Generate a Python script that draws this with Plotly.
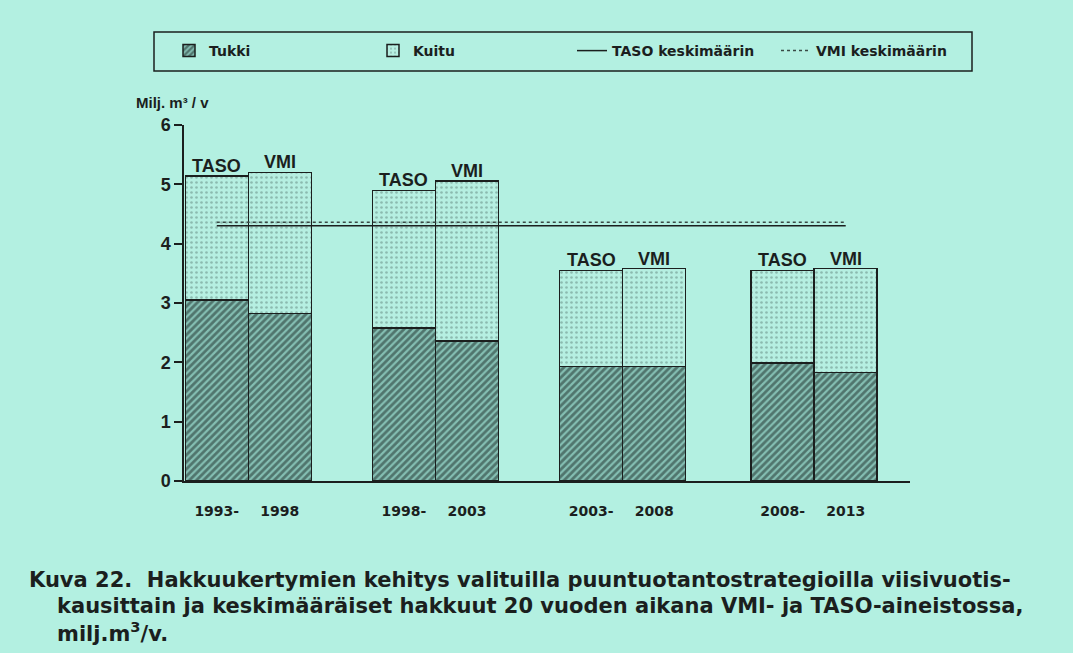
import plotly.graph_objects as go

# ---- data ----
period_start = ["1993-", "1998-", "2003-", "2008-"]
period_end = ["1998", "2003", "2008", "2013"]
taso_tukki = [3.05, 2.58, 1.93, 1.99]
taso_kuitu = [2.09, 2.32, 1.62, 1.56]
vmi_tukki = [2.82, 2.36, 1.93, 1.83]
vmi_kuitu = [2.38, 2.70, 1.65, 1.75]
taso_avg = 4.30
vmi_avg = 4.36
series_labels = ["TASO", "VMI"]

# ---- layout helpers ----
group_pos = [0, 2.97, 5.94, 8.98]
taso_x = [g for g in group_pos]
vmi_x = [g + 1 for g in group_pos]
xs = taso_x + vmi_x
tukki = taso_tukki + vmi_tukki
kuitu = taso_kuitu + vmi_kuitu

BG = "#b3f0e1"
INK = "#1b1f1e"
FONT = "Liberation Sans, Arial, sans-serif"
WIDE = "DejaVu Sans, Verdana, sans-serif"

W, H = 1073, 653
L, R, T, B = 184, 163, 125, 172
PW, PH = W - L - R, H - T - B


def px_x(px):
    return (px - L) / PW


def px_y(py):
    return (H - B - py) / PH


fig = go.Figure()

fig.add_trace(go.Bar(
    x=xs, y=tukki, width=1, name="Tukki", legend="legend",
    marker=dict(color="#84beb2", line=dict(color=INK, width=1.5),
                pattern=dict(shape="/", fgcolor="#1c2b28", bgcolor="#84beb2",
                             size=5, solidity=0.55)),
))
fig.add_trace(go.Bar(
    x=xs, y=kuitu, width=1, name="Kuitu", legend="legend2",
    marker=dict(color="#b6efe1", line=dict(color=INK, width=1.5),
                pattern=dict(shape=".", fgcolor="#62857e", bgcolor="#b6efe1",
                             size=5, solidity=0.22)),
))
fig.add_trace(go.Scatter(
    x=[taso_x[0], vmi_x[-1]], y=[taso_avg, taso_avg], mode="lines",
    name="TASO keskimäärin", legend="legend3",
    line=dict(color=INK, width=1.5),
))
fig.add_trace(go.Scatter(
    x=[taso_x[0], vmi_x[-1]], y=[vmi_avg, vmi_avg], mode="lines",
    name="VMI keskimäärin", legend="legend4",
    line=dict(color="#3a4a46", width=1.5, dash="dot"),
))

annotations = []
for i in range(4):
    for lab, x, t, k in ((series_labels[0], taso_x[i], taso_tukki[i], taso_kuitu[i]),
                         (series_labels[1], vmi_x[i], vmi_tukki[i], vmi_kuitu[i])):
        annotations.append(dict(
            x=x, y=t + k, xref="x", yref="y", text=lab, showarrow=False,
            yanchor="bottom", yshift=-2,
            font=dict(family=FONT, size=18, color=INK, weight="bold"),
        ))

annotations.append(dict(
    x=px_x(172), y=px_y(103), xref="paper", yref="paper",
    text="Milj. m³ / v", showarrow=False, xanchor="center", yanchor="middle",
    font=dict(family=FONT, size=15, color=INK, weight="bold"),
))

caption = [
    (27, 580, "Kuva 22.  Hakkuukertymien kehitys valituilla puuntuotantostrategioilla viisivuotis-"),
    (55, 606, "kausittain ja keskimääräiset hakkuut 20 vuoden aikana VMI- ja TASO-aineistossa,"),
    (55, 632, "milj.m<sup>3</sup>/v."),
]
for cx, cy, txt in caption:
    annotations.append(dict(
        x=px_x(cx), y=px_y(cy), xref="paper", yref="paper", text=txt,
        showarrow=False, xanchor="left", yanchor="middle",
        font=dict(family=WIDE, size=21, color=INK, weight="bold"),
    ))

legend_common = dict(
    orientation="h", xref="container", yref="container",
    yanchor="middle", y=1 - 51 / H, xanchor="left",
    bgcolor="rgba(0,0,0,0)", borderwidth=0,
    font=dict(family=WIDE, size=14, color=INK, weight="bold"),
)
text_starts = [214, 418, 617, 821]

fig.update_layout(
    width=W, height=H,
    margin=dict(l=L, r=R, t=T, b=B),
    paper_bgcolor=BG, plot_bgcolor=BG,
    barmode="stack",
    showlegend=True,
    legend=dict(legend_common, x=(text_starts[0] - 45) / W),
    legend2=dict(legend_common, x=(text_starts[1] - 45) / W),
    legend3=dict(legend_common, x=(text_starts[2] - 45) / W),
    legend4=dict(legend_common, x=(text_starts[3] - 45) / W),
    annotations=annotations,
    shapes=[dict(type="rect", xref="paper", yref="paper",
                 x0=px_x(154), x1=px_x(972), y0=px_y(71), y1=px_y(32),
                 line=dict(color=INK, width=1.5), fillcolor="rgba(0,0,0,0)")],
    xaxis=dict(
        range=[-0.52, 11.0], showgrid=False, zeroline=False,
        showline=True, linecolor=INK, linewidth=1.5,
        tickmode="array", tickvals=xs,
        ticktext=period_start + period_end, ticks="", ticklabelstandoff=16,
        tickfont=dict(family=WIDE, size=14, color=INK, weight="bold"),
    ),
    yaxis=dict(
        range=[0, 6], showgrid=False, zeroline=False,
        showline=True, linecolor=INK, linewidth=1.5,
        tickmode="array", tickvals=[0, 1, 2, 3, 4, 5, 6],
        ticks="outside", ticklen=8, tickcolor=INK, tickwidth=1.5,
        tickfont=dict(family=FONT, size=18, color=INK, weight="bold"),
    ),
)

fig.write_html(
    "out.html",
    config={"displayModeBar": False},
    post_script="document.body.style.margin='0';document.body.style.background='" + BG + "';",
)
